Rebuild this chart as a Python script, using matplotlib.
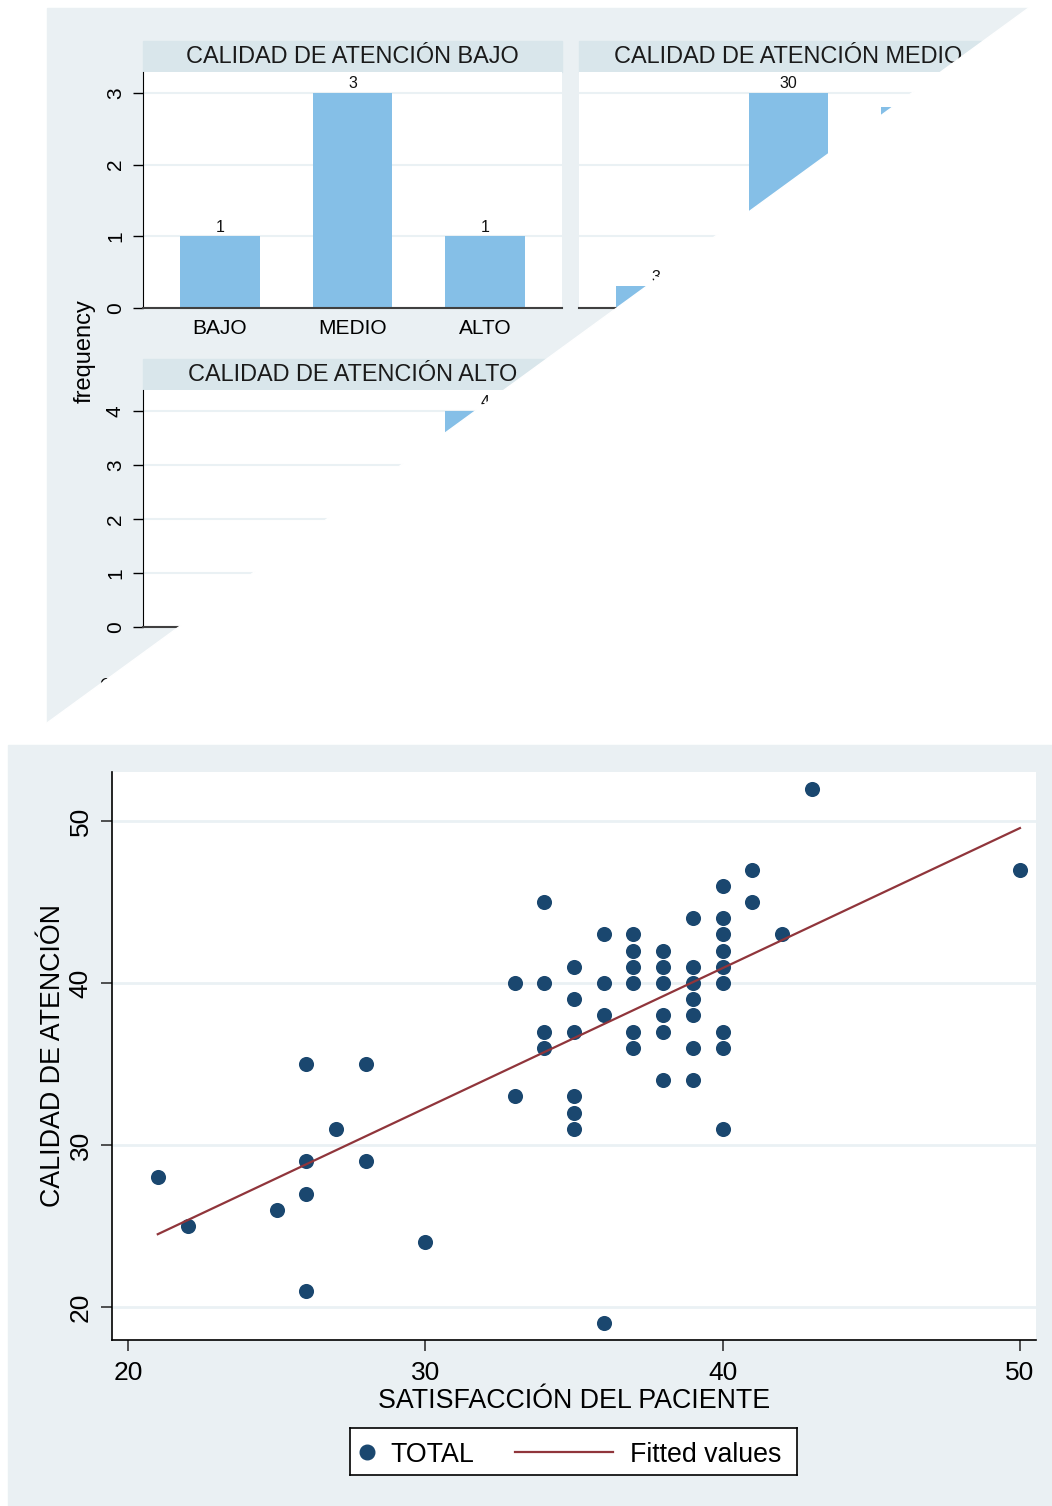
import numpy as np
import matplotlib
matplotlib.use("Agg")
import matplotlib.pyplot as plt
from matplotlib.patches import Rectangle, Polygon

plt.rcParams['font.family'] = ['Liberation Sans', 'DejaVu Sans']

# ---- data ----
levels = ['BAJO', 'MEDIO', 'ALTO']
freq_bajo = [1, 3, 1]
freq_medio = [3, 30, 28]
freq_alto = [0, 1, 4]   # only the ALTO bar is visible in the reference

satisfaccion = [21, 22, 25, 26, 26, 26, 26, 27, 28, 28, 30,
                33, 33,
                34, 34, 34, 34,
                35, 35, 35, 35, 35, 35,
                36, 36, 36, 36,
                37, 37, 37, 37, 37, 37,
                38, 38, 38, 38, 38, 38,
                39, 39, 39, 39, 39, 39, 39,
                40, 40, 40, 40, 40, 40, 40, 40, 40,
                41, 41, 42, 43, 50]
calidad = [28, 25, 26, 35, 29, 27, 21, 31, 35, 29, 24,
           40, 33,
           45, 40, 37, 36,
           41, 39, 37, 33, 32, 31,
           43, 40, 38, 19,
           43, 42, 41, 40, 37, 36,
           42, 41, 40, 38, 37, 34,
           44, 41, 40, 39, 38, 36, 34,
           46, 44, 43, 42, 41, 40, 37, 36, 31,
           47, 45, 43, 52, 47]
legend_labels = ['TOTAL', 'Fitted values']

W, H = 1052, 1506
BG = '#eaf0f3'
STRIP = '#d9e6eb'
GRID = '#eaf1f4'
BAR = '#85bfe7'
NAVY = '#1a476f'
MAROON = '#90353b'


def rect(x0, y0, x1, y1):
    # pixel box (top-left origin) -> figure fraction [l, b, w, h]
    return [x0 / W, 1 - y1 / H, (x1 - x0) / W, (y1 - y0) / H]


fig = plt.figure(figsize=(W / 100, H / 100), dpi=100)
fig.patch.set_facecolor('white')

# graph regions
fig.patches.append(Rectangle((47 / W, 1 - 723 / H), (1030 - 47) / W, (723 - 8) / H,
                             transform=fig.transFigure, color=BG, zorder=-10))
fig.patches.append(Rectangle((8 / W, 0), (1052 - 8) / W, (1506 - 745) / H,
                             transform=fig.transFigure, color=BG, zorder=-10))


def bar_panel(box, strip_box, title, values, ymax, ticks, show_y):
    ax = fig.add_axes(rect(*box))
    x = np.arange(len(levels))
    ax.bar(x, values, width=0.6, color=BAR, zorder=2)
    for xi, v in zip(x, values):
        ax.annotate(str(v), (xi, v), xytext=(0, 1), textcoords='offset points',
                    ha='center', va='bottom', fontsize=11.5, color='#111111')
    ax.set_xlim(-0.58, 2.58)
    ax.set_ylim(0, ymax)
    ax.set_yticks(ticks)
    ax.grid(axis='y', color=GRID, lw=1.5, zorder=0)
    for s in ['top', 'right']:
        ax.spines[s].set_visible(False)
    ax.spines['bottom'].set_color('#404040')
    ax.spines['bottom'].set_linewidth(1.5)
    if show_y:
        ax.spines['left'].set_color('black')
        ax.tick_params(axis='y', length=7, width=1, labelsize=15, pad=6)
        for lab in ax.get_yticklabels():
            lab.set_rotation(90)
            lab.set_va('center')
    else:
        ax.spines['left'].set_visible(False)
        ax.tick_params(axis='y', length=0, labelleft=False)
    ax.set_xticks(x)
    ax.set_xticklabels(levels)
    ax.tick_params(axis='x', length=0, labelsize=15, pad=8)
    fig.patches.append(Rectangle((strip_box[0] / W, 1 - strip_box[3] / H),
                                 (strip_box[2] - strip_box[0]) / W,
                                 (strip_box[3] - strip_box[1]) / H,
                                 transform=fig.transFigure, color=STRIP, zorder=-5))
    fig.text((strip_box[0] + strip_box[2]) / 2 / W, 1 - (strip_box[1] + strip_box[3]) / 2 / H,
             title, ha='center', va='center', fontsize=16.9, color='#1a1a1a')
    return ax


bar_panel((143, 72, 562, 308), (143, 41, 562, 72), 'CALIDAD DE ATENCIÓN BAJO',
          freq_bajo, 3.29, [0, 1, 2, 3], True)
bar_panel((579, 72, 998, 308), (579, 41, 998, 72), 'CALIDAD DE ATENCIÓN MEDIO',
          freq_medio, 32.9, [0, 10, 20, 30], False)
bar_panel((143, 390, 562, 627), (143, 359, 562, 390), 'CALIDAD DE ATENCIÓN ALTO',
          freq_alto, 4.39, [0, 1, 2, 3, 4], True)

fig.text(85 / W, 1 - 351 / H, 'frequency', rotation=90, ha='center', va='center', fontsize=17)
fig.text(100 / W, 1 - 690 / H, 'Graphs by CALIDAD DE ATENCIÓN', ha='left', va='baseline', fontsize=12)

# white wedge covering the lower-right of the bar graph
wedge = Polygon([(47 / W, 1 - 723 / H), (1030 / W, 1 - 7 / H), (1, 1 - 7 / H),
                 (1, 1 - 740 / H), (47 / W, 1 - 740 / H)],
                closed=True, transform=fig.transFigure, color='white', zorder=50)
fig.patches.append(wedge)

# ---- scatter with fitted line ----
ax = fig.add_axes(rect(112, 772, 1036, 1340))
ax.set_facecolor('white')
xs = np.array(satisfaccion, dtype=float)
ys = np.array(calidad, dtype=float)
slope, icpt = np.polyfit(xs, ys, 1)
xl = np.array([xs.min(), xs.max()])
ax.scatter(xs, ys, s=118, color=NAVY, linewidths=0, zorder=3)
ax.plot(xl, icpt + slope * xl, color=MAROON, lw=1.6, zorder=4)
ax.set_xlim(19.46, 50.54)
ax.set_ylim(17.96, 53.02)
ax.set_xticks([20, 30, 40, 50])
ax.set_yticks([20, 30, 40, 50])
ax.grid(axis='y', color=GRID, lw=2, zorder=0)
for s in ['top', 'right']:
    ax.spines[s].set_visible(False)
for s in ['left', 'bottom']:
    ax.spines[s].set_color('black')
    ax.spines[s].set_linewidth(1.2)
ax.tick_params(axis='both', length=8, width=1.2, labelsize=19, color='#333333')
ax.tick_params(axis='x', pad=7)
ax.tick_params(axis='y', pad=6)
for lab in ax.get_yticklabels():
    lab.set_rotation(90)
    lab.set_va('center')
ax.set_xlabel('SATISFACCIÓN DEL PACIENTE', fontsize=19.3, labelpad=2)
ax.set_ylabel('CALIDAD DE ATENCIÓN', fontsize=19.3, labelpad=2)

# legend drawn in its own small box
lg = fig.add_axes(rect(350, 1428, 797, 1475))
lg.set_xlim(0, 447)
lg.set_ylim(0, 47)
lg.set_xticks([])
lg.set_yticks([])
for s in lg.spines.values():
    s.set_linewidth(1.2)
    s.set_color('black')
lg.plot([17], [23.5], marker='o', color=NAVY, markersize=10.5, ls='none')
lg.text(40, 23.5, legend_labels[0], fontsize=19.3, va='center_baseline', ha='left')
lg.plot([165, 263], [23.5, 23.5], color=MAROON, lw=1.6)
lg.text(280, 23.5, legend_labels[1], fontsize=19.3, va='center_baseline', ha='left')

fig.savefig('out.png', dpi=100)
